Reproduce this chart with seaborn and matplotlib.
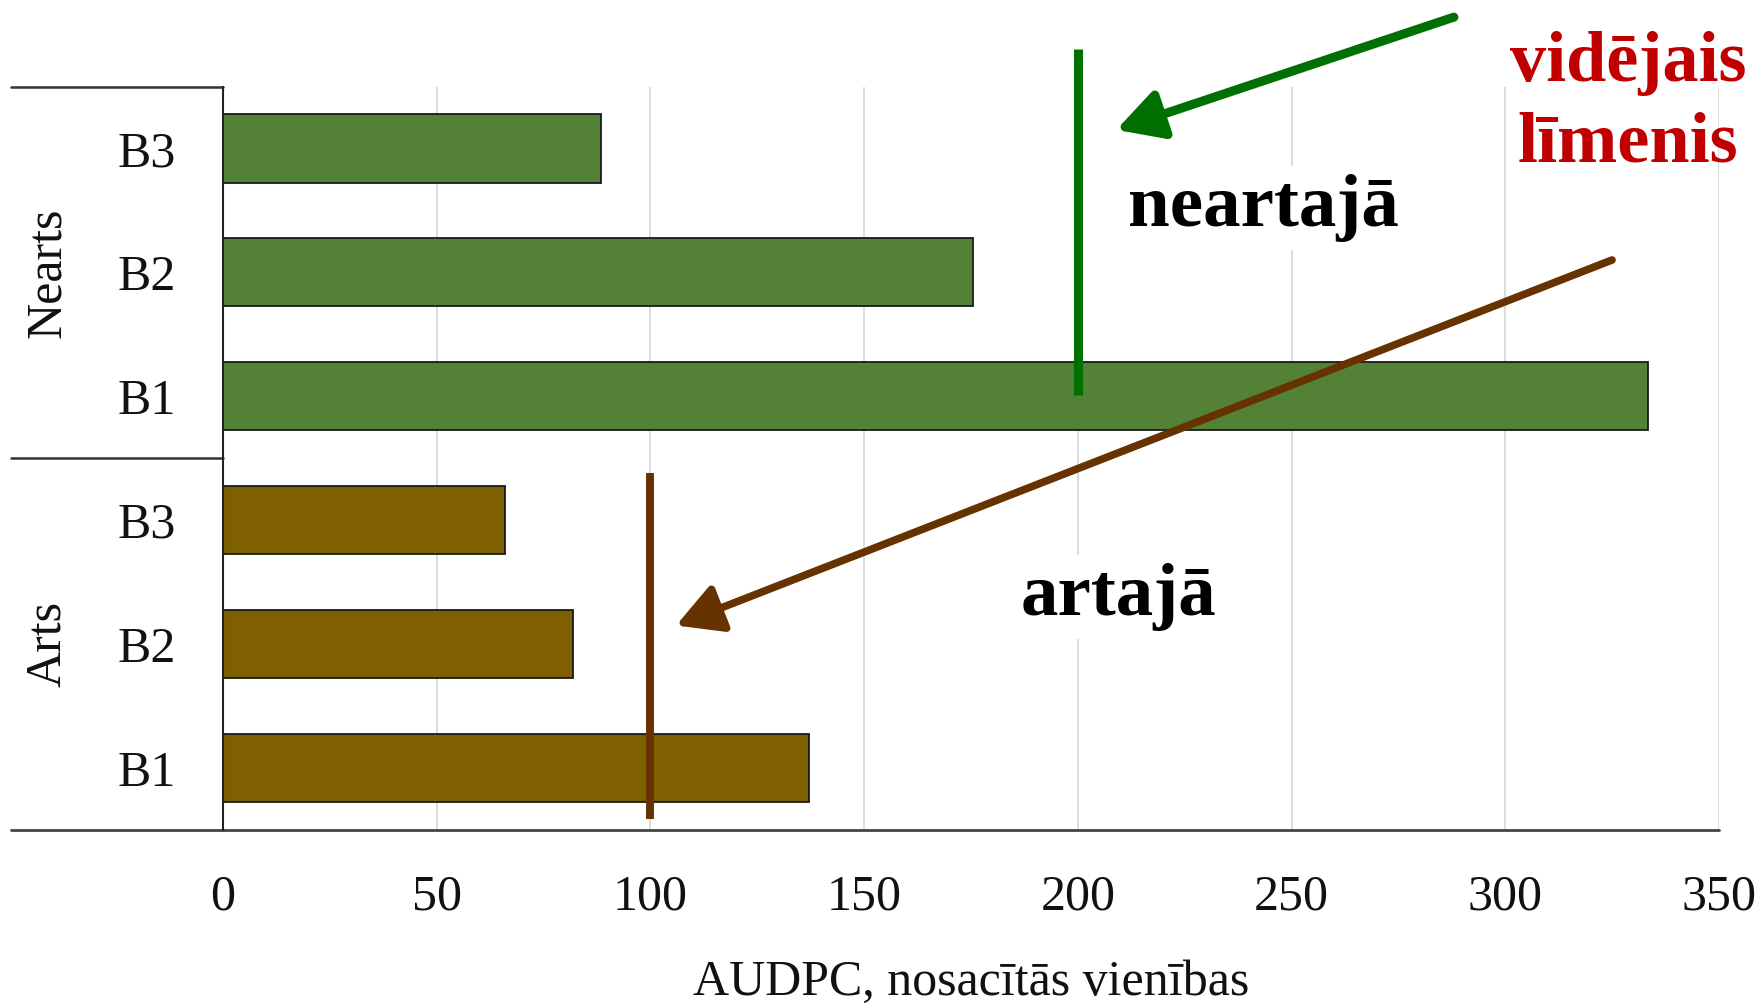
import pandas as pd
import matplotlib.pyplot as plt
import seaborn as sns

# --- dati ---
groups = ['Nearts', 'Nearts', 'Nearts', 'Arts', 'Arts', 'Arts']
variants = ['B3', 'B2', 'B1', 'B3', 'B2', 'B1']
audpc = [88.5, 175.5, 333.5, 66, 82, 137]
mean_nearts = 200
mean_arts = 100
x_ticks = [0, 50, 100, 150, 200, 250, 300, 350]

df = pd.DataFrame({'grupa': groups, 'variants': variants, 'AUDPC': audpc})
df['rinda'] = df['grupa'] + ' ' + df['variants']

sns.set_theme(style="white")
plt.rcParams['font.family'] = ['Liberation Serif', 'DejaVu Serif']

fig = plt.figure(figsize=(17.59, 10.06), dpi=100)
ax = fig.add_axes([0.1268, 0.175, 0.8504, 0.739])

sns.barplot(data=df, y='rinda', x='AUDPC', hue='grupa', dodge=False,
            palette={'Nearts': '#538135', 'Arts': '#7F6000'}, saturation=1,
            edgecolor='#1a1a1a', linewidth=1.3, width=0.55, legend=False, ax=ax)

ax.set_xlim(0, 350)
ax.set_ylim(5.5, -0.5)
ax.set_xticks(x_ticks)
ax.set_xticklabels([str(t) for t in x_ticks])
ax.set_yticks(range(len(variants)))
ax.set_yticklabels(variants)
ax.tick_params(axis='both', length=0, labelsize=36, colors='#111111')
ax.tick_params(axis='x', pad=32)
ax.tick_params(axis='y', pad=34)
ax.set_ylabel('')
ax.set_xlabel('AUDPC, nosacītās vienības', fontsize=36, labelpad=28, color='#111111')

ax.grid(axis='x', color='#d9d9d9', linewidth=1.3)
ax.set_axisbelow(True)
for s in ['top', 'right']:
    ax.spines[s].set_visible(False)
ax.spines['left'].set_color('#222222')
ax.spines['left'].set_linewidth(1.5)
ax.spines['bottom'].set_visible(False)

# grupu iekava pa kreisi
tr = ax.get_yaxis_transform()
for yy in [-0.5, 2.5]:
    ax.plot([-0.142, 0], [yy, yy], transform=tr, color='#333333', lw=1.8, clip_on=False)
ax.plot([-0.142, 1.0], [5.5, 5.5], transform=tr, color='#444444', lw=2.0, clip_on=False)
ax.text(-0.117, 1, 'Nearts', transform=tr, rotation=90, ha='center', va='center',
        fontsize=36, color='#111111')
ax.text(-0.117, 4, 'Arts', transform=tr, rotation=90, ha='center', va='center',
        fontsize=36, color='#111111')

# vidējie līmeņi
ax.plot([mean_nearts, mean_nearts], [-0.8, 1.99], color='#007000', lw=6.5,
        solid_capstyle='butt', clip_on=False)
ax.plot([mean_arts, mean_arts], [2.62, 5.41], color='#663300', lw=5.7,
        solid_capstyle='butt', clip_on=False)

ax.annotate('', xy=(209, -0.15), xytext=(288, -1.06), annotation_clip=False,
            arrowprops=dict(arrowstyle='-|>,head_length=0.55,head_width=0.3',
                            color='#007000', lw=6.5,
                            mutation_scale=50, shrinkA=0, shrinkB=0))
ax.annotate('', xy=(106, 3.85), xytext=(325, 0.9), annotation_clip=False,
            arrowprops=dict(arrowstyle='-|>,head_length=0.55,head_width=0.3',
                            color='#663300', lw=5.5,
                            mutation_scale=50, shrinkA=0, shrinkB=0))

ax.text(243.5, 0.48, 'neartajā', ha='center', va='center', fontsize=54,
        fontweight='bold', color='black',
        bbox=dict(facecolor='white', edgecolor='none', pad=6))
ax.text(209.5, 3.62, 'artajā', ha='center', va='center', fontsize=54,
        fontweight='bold', color='black',
        bbox=dict(facecolor='white', edgecolor='none', pad=6))
ax.text(328.7, -0.36, 'vidējais\nlīmenis', ha='center', va='center', fontsize=52,
        fontweight='bold', color='#C00000', linespacing=1.32, clip_on=False)

fig.savefig('out.png', dpi=100, facecolor='white')
